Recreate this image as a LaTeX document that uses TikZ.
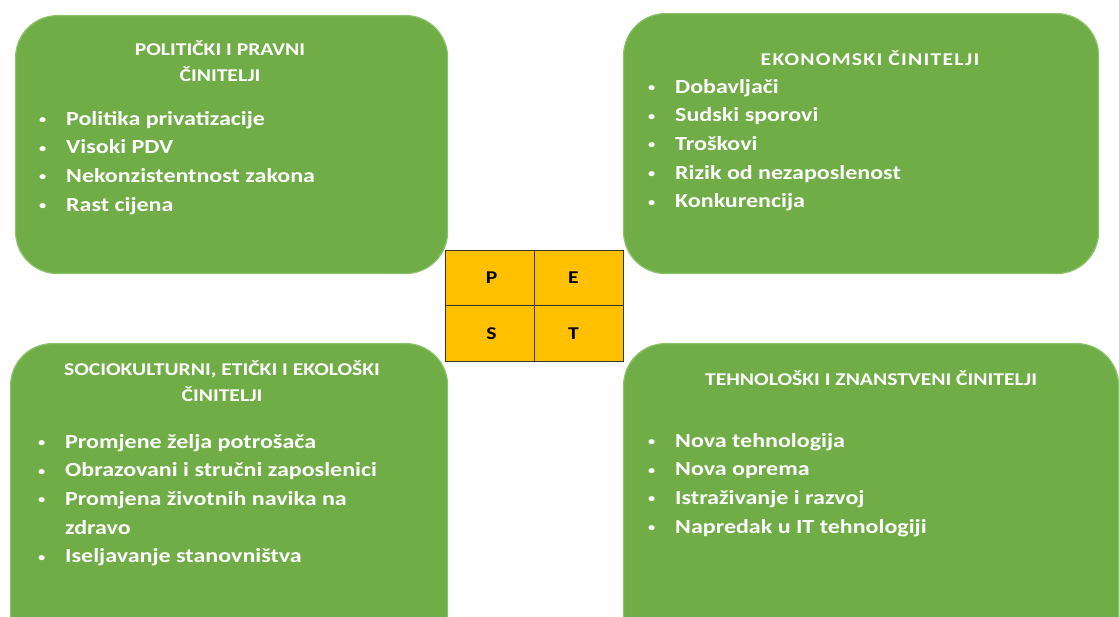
\documentclass[tikz,border=0pt]{standalone}
\usepackage{fontspec}
\setmainfont{Carlito}[FakeStretch=1.2]
\usetikzlibrary{positioning}
\definecolor{boxgreen}{HTML}{70AD47}
\definecolor{boxedge}{HTML}{8CC26A}
\definecolor{pestyellow}{HTML}{FFC000}
\definecolor{gridline}{HTML}{3A3428}

\newcommand{\titlefont}{\fontsize{18}{26}\selectfont\bfseries}
\newcommand{\listfont}{\fontsize{20}{28.7}\selectfont\bfseries}
\newcommand{\bul}{\makebox[27pt][l]{\raisebox{1.5pt}{\fontsize{12}{12}\selectfont\textbullet}}}

\tikzset{
  factor/.style={draw=boxedge, line width=1.2pt, fill=boxgreen, rounded corners=42pt, anchor=north west, inner sep=0pt},
  heading/.style={text=white, anchor=base, inner sep=0pt, font=\titlefont},
  itemlist/.style={text=white, anchor=base west, inner sep=0pt, font=\listfont},
  cell/.style={draw=gridline, line width=0.8pt, fill=pestyellow, outer sep=0pt, inner sep=0pt,
    minimum width=89pt, minimum height=55.5pt, font=\fontsize{18}{22}\selectfont\bfseries}
}

\begin{document}
\begin{tikzpicture}[x=1pt, y=-1pt]
  \useasboundingbox (0,0) rectangle (1119,616);
  \fill[white] (0,0) rectangle (1119,616);
  \clip (0,0) rectangle (1119,616);

  % the four groups of factors
  \node[factor, minimum width=432pt, minimum height=258pt] (pol) at (15,15) {};
  \node[factor, minimum width=475pt, minimum height=260pt] (eko) at (623,13) {};
  \node[factor, minimum width=437pt, minimum height=320pt] (soc) at (10,343) {};
  \node[factor, minimum width=495pt, minimum height=320pt] (teh) at (623,343) {};

  \node[heading] (polT) at (220,55) {\begin{tabular}[t]{@{}c@{}}POLITIČKI I PRAVNI\\ČINITELJI\end{tabular}};
  \node[itemlist] (polL) at (39,125) {\begin{tabular}[t]{@{}l@{}}
    \bul Politika privatizacije\\
    \bul Visoki PDV\\
    \bul Nekonzistentnost zakona\\
    \bul Rast cijena
  \end{tabular}};

  \node[heading] (ekoT) at (870,65) {\addfontfeature{LetterSpace=7}EKONOMSKI ČINITELJI};
  \node[itemlist] (ekoL) at (648,93) {\begin{tabular}[t]{@{}l@{}}
    \bul Dobavljači\\
    \bul Sudski sporovi\\
    \bul Troškovi\\
    \bul Rizik od nezaposlenost\\
    \bul Konkurencija
  \end{tabular}};

  \node[heading] (socT) at (222,375) {\begin{tabular}[t]{@{}c@{}}SOCIOKULTURNI, ETIČKI I EKOLOŠKI\\ČINITELJI\end{tabular}};
  \node[itemlist] (socL) at (38,448) {\begin{tabular}[t]{@{}l@{}}
    \bul Promjene želja potrošača\\
    \bul Obrazovani i stručni zaposlenici\\
    \bul Promjena životnih navika na\\
    \hspace*{27pt}zdravo\\
    \bul Iseljavanje stanovništva
  \end{tabular}};

  \node[heading] (tehT) at (871,385) {TEHNOLOŠKI I ZNANSTVENI ČINITELJI};
  \node[itemlist] (tehL) at (648,447) {\begin{tabular}[t]{@{}l@{}}
    \bul Nova tehnologija\\
    \bul Nova oprema\\
    \bul Istraživanje i razvoj\\
    \bul Napredak u IT tehnologiji
  \end{tabular}};

  % PEST grid
  \node[cell] (p) at (489.5,277.75) {\hspace*{4pt}P};
  \node[cell, right=0pt of p] (e) {E\hspace*{10pt}};
  \node[cell, below=0pt of p] (s) {\hspace*{4pt}S};
  \node[cell, right=0pt of s] (t) {T\hspace*{10pt}};
\end{tikzpicture}
\end{document}
